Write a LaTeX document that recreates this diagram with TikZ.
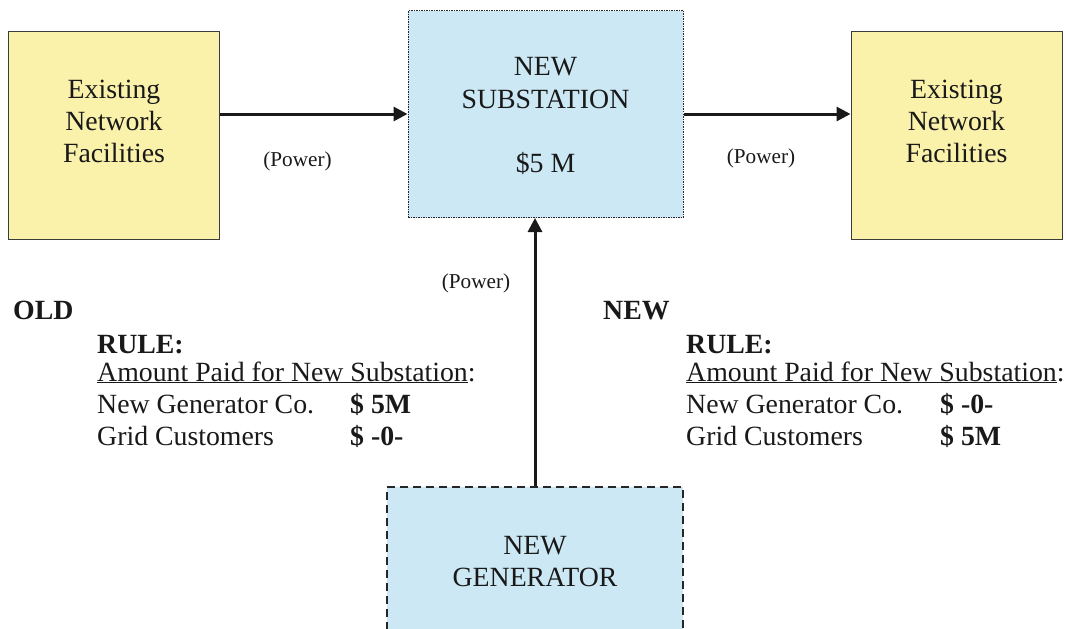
\documentclass[tikz,border=0pt]{standalone}
\usepackage{fontspec}
\setmainfont{Liberation Serif}
\usetikzlibrary{arrows.meta}
\definecolor{boxyellow}{RGB}{250,241,170}
\definecolor{boxblue}{RGB}{204,232,244}
\definecolor{edgegray}{RGB}{60,60,60}
\begin{document}
\begin{tikzpicture}[x=1pt,y=-1pt,
  ybox/.style={draw=edgegray, line width=1pt, fill=boxyellow, inner sep=0pt},
  subbox/.style={draw=black!85, line width=1pt, dash pattern=on 1.5pt off 1pt, fill=boxblue, inner sep=0pt},
  genbox/.style={draw=black!85, line width=2.5pt, dash pattern=on 8pt off 5pt, fill=boxblue, inner sep=0pt},
  arr/.style={line width=3pt, draw=black!90, -{Triangle[length=14pt,width=14pt]}},
  big/.style={font=\fontsize{27.8}{32}\selectfont, inner sep=0pt, anchor=base, text=black!90},
  bigl/.style={big, anchor=base west},
  bigb/.style={bigl, font=\fontsize{27.8}{32}\selectfont\bfseries},
  small/.style={font=\fontsize{21.2}{24}\selectfont, inner sep=0pt, anchor=base, text=black!90}
]
\path[use as bounding box, clip] (0,0) rectangle (1066,629);

% boxes
\node[ybox, minimum width=211pt, minimum height=208pt] (lbox) at (114,135) {};
\node[ybox, minimum width=211pt, minimum height=208pt] (rbox) at (956.5,135) {};
\node[subbox, minimum width=275pt, minimum height=207pt] (sub) at (545.5,114) {};
\node[genbox, minimum width=296pt, minimum height=170pt] (gen) at (535,572) {};

% box texts
\node[big] (l1) at (114,98) {Existing};
\node[big] (l2) at (114,130) {Network};
\node[big] (l3) at (114,162) {Facilities};
\node[big] (r1) at (956.5,98) {Existing};
\node[big] (r2) at (956.5,130) {Network};
\node[big] (r3) at (956.5,162) {Facilities};
\node[big] (s1) at (545.5,75) {NEW};
\node[big] (s2) at (545.5,108) {SUBSTATION};
\node[big] (s3) at (545.5,172) {\$5 M};
\node[big] (g1) at (535,554) {NEW};
\node[big] (g2) at (535,586) {GENERATOR};

% connectors
\draw[arr] ([yshift=21pt]lbox.east) -- (sub.west);
\draw[arr] (sub.east) -- ([yshift=21pt]rbox.west);
\draw[arr] (gen.north) -- (gen.north |- sub.south);

% power labels
\node[small] (p1) at (297.5,166) {(Power)};
\node[small] (p2) at (761,163) {(Power)};
\node[small] (p3) at (476,288) {(Power)};

% old rule
\node[bigb] (old) at (13,319) {OLD};
\node[bigb] (oldrule) at (97,353) {RULE:};
\node[bigl] (oldamt) at (97,381) {\underline{Amount Paid for New Substation}:};
\node[bigl] (oldgen) at (97,413) {New Generator Co.};
\node[bigl] (oldgrid) at (97,445) {Grid Customers};
\node[bigb] (oldgenv) at (350,413) {\$ 5M};
\node[bigb] (oldgridv) at (350,445) {\$ -0-};

% new rule
\node[bigb] (new) at (603,319) {NEW};
\node[bigb] (newrule) at (686,353) {RULE:};
\node[bigl] (newamt) at (686,381) {\underline{Amount Paid for New Substation}:};
\node[bigl] (newgen) at (686,413) {New Generator Co.};
\node[bigl] (newgrid) at (686,445) {Grid Customers};
\node[bigb] (newgenv) at (940,413) {\$ -0-};
\node[bigb] (newgridv) at (940,445) {\$ 5M};
\end{tikzpicture}
\end{document}
